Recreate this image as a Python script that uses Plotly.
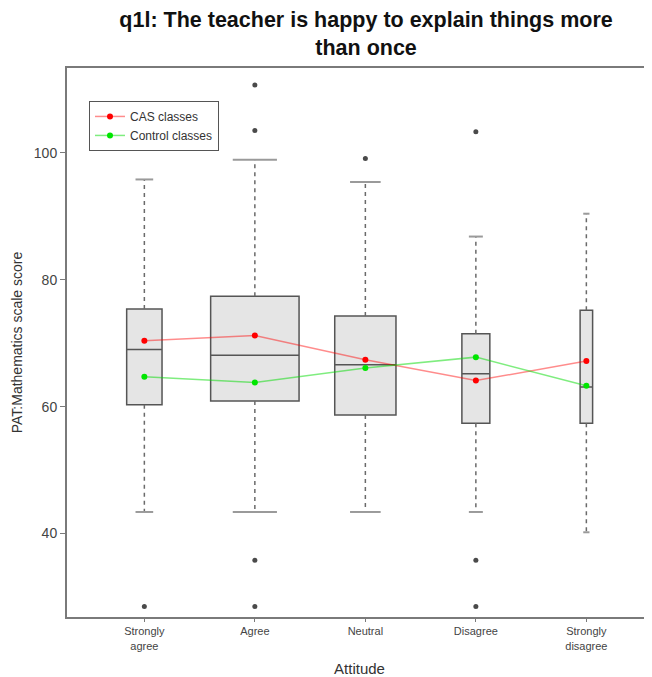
import plotly.graph_objects as go

# ── DATA ──────────────────────────────────────────────────────
categories = ['Strongly<br>agree', 'Agree', 'Neutral', 'Disagree', 'Strongly<br>disagree']
group_n = [40, 250, 120, 25, 5]          # drives variable box width (sqrt n)

q1 = [60.3, 60.9, 58.7, 57.4, 57.4]
median = [69.0, 68.1, 66.6, 65.2, 63.1]
q3 = [75.4, 77.4, 74.3, 71.5, 75.2]
lower_whisker = [43.4, 43.4, 43.4, 43.4, 40.2]
upper_whisker = [95.8, 98.9, 95.4, 86.8, 90.4]

outlier_group = [0, 1, 1, 1, 1, 2, 3, 3, 3]
outlier_value = [28.5, 110.7, 103.5, 35.8, 28.5, 99.1, 103.3, 35.8, 28.5]

cas_means = [70.4, 71.2, 67.4, 64.1, 67.2]
control_means = [64.7, 63.8, 66.1, 67.8, 63.3]

# ── STYLE ─────────────────────────────────────────────────────
FONT = 'Liberation Sans, Arial, sans-serif'
BOX_FILL = '#e5e5e5'
BOX_LINE = '#555555'
WHISKER = '#6a6a6a'
CAP = '#9a9a9a'
AXIS = '#7a7a7a'

pos = list(range(1, len(categories) + 1))
max_n = max(group_n)
widths = [0.8 * (n / max_n) ** 0.5 for n in group_n]

fig = go.Figure()

# boxes (no whiskers: fences set to the hinges)
for i, p in enumerate(pos):
    fig.add_trace(go.Box(
        x=[p], q1=[q1[i]], median=[median[i]], q3=[q3[i]],
        lowerfence=[q1[i]], upperfence=[q3[i]],
        width=widths[i], whiskerwidth=0,
        fillcolor=BOX_FILL, line=dict(color=BOX_LINE, width=1.5),
        boxpoints=False, showlegend=False, hoverinfo='skip',
    ))

# dashed whiskers
wx, wy = [], []
for i, p in enumerate(pos):
    wx += [p, p, None, p, p, None]
    wy += [q3[i], upper_whisker[i], None, q1[i], lower_whisker[i], None]
fig.add_trace(go.Scatter(
    x=wx, y=wy, mode='lines', showlegend=False, hoverinfo='skip',
    line=dict(color=WHISKER, width=1.5, dash='4px,4px'),
))

# whisker caps (half the box width, like R's staplewex)
cx, cy = [], []
for i, p in enumerate(pos):
    h = widths[i] / 4
    cx += [p - h, p + h, None, p - h, p + h, None]
    cy += [upper_whisker[i], upper_whisker[i], None, lower_whisker[i], lower_whisker[i], None]
fig.add_trace(go.Scatter(
    x=cx, y=cy, mode='lines', showlegend=False, hoverinfo='skip',
    line=dict(color=CAP, width=2),
))

# outliers
fig.add_trace(go.Scatter(
    x=[pos[g] for g in outlier_group], y=outlier_value, mode='markers',
    marker=dict(color='#4a4a4a', size=5), showlegend=False,
))

# group means
fig.add_trace(go.Scatter(
    x=pos, y=cas_means, mode='lines+markers', name='CAS classes',
    line=dict(color='rgba(255,0,0,0.45)', width=1.5),
    marker=dict(color='#ff0000', size=6),
))
fig.add_trace(go.Scatter(
    x=pos, y=control_means, mode='lines+markers', name='Control classes',
    line=dict(color='rgba(0,220,0,0.5)', width=1.5),
    marker=dict(color='#00e600', size=6),
))

# page body has an 8px margin, so the figure is 8px smaller each way
fig.update_layout(
    width=644, height=669, autosize=False,
    margin=dict(l=59, r=0, t=60, b=60),
    paper_bgcolor='white', plot_bgcolor='white',
    font=dict(family=FONT, color='#333333'),
    title=dict(
        text='q1l: The teacher is happy to explain things more<br>than once',
        x=0.556, xref='container', xanchor='center',
        y=0.972, yref='container', yanchor='top',
        font=dict(size=21.5, color='#111111', family=FONT, weight='bold'),
    ),
    xaxis=dict(
        range=[0.3, 5.594], tickvals=pos, ticktext=categories,
        tickfont=dict(size=11, color='#444444'),
        ticks='outside', ticklen=3, tickcolor=AXIS,
        showline=True, linecolor=AXIS, linewidth=2, mirror=True,
        showgrid=False, zeroline=False,
        title=dict(text='Attitude', font=dict(size=15, color='#333333'), standoff=13),
    ),
    yaxis=dict(
        range=[26.85, 113.36], tickvals=[40, 60, 80, 100],
        tickfont=dict(size=14, color='#444444'),
        ticks='outside', ticklen=5, tickcolor=AXIS,
        showline=True, linecolor=AXIS, linewidth=2,
        showgrid=False, zeroline=False,
        title=dict(text='PAT:Mathematics scale score',
                   font=dict(size=14, color='#333333'), standoff=8),
    ),
    legend=dict(
        x=0.0376, y=0.94, xanchor='left', yanchor='top',
        bgcolor='white', bordercolor='#555555', borderwidth=1,
        font=dict(size=12, color='#333333'),
    ),
)

fig.write_html("out.html")
